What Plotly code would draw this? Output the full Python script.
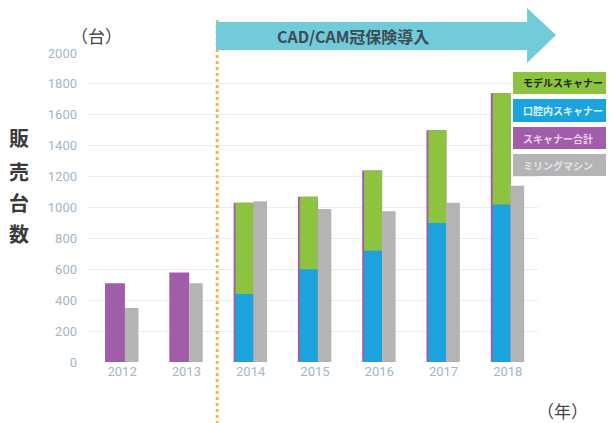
import plotly.graph_objects as go

years = ["2012", "2013", "2014", "2015", "2016", "2017", "2018"]
scanner_total = [510, 580, 1030, 1070, 1240, 1500, 1740]
intraoral = [None, None, 440, 600, 720, 900, 1020]
model_scanner = [None, None, 590, 470, 520, 600, 720]
milling = [350, 510, 1040, 990, 975, 1030, 1140]

legend_labels = ["モデルスキャナー", "口腔内スキャナー", "スキャナー合計", "ミリングマシン"]
arrow_text = "CAD/CAM冠保険導入"
y_title_chars = ["販", "売", "台", "数"]

C_GREEN = "#8CC43F"
C_BLUE = "#1BA3DD"
C_PURPLE = "#A15DAA"
C_GRAY = "#B4B4B6"
JP = "Noto Sans CJK JP"

W, H = 614, 423
OFF = 8  # page body margin
PL, PR, PT, PB = 88, 538, 53, 362
ML, MT = PL - OFF, PT - OFF
PW, PH = PR - PL, PB - PT
MR, MB = W - ML - PW, H - MT - PH


def px(x):
    return (x - PL) / PW


def py(y):
    return (PB - y) / PH


fig = go.Figure()
fig.add_trace(go.Bar(x=years, y=scanner_total, marker=dict(color=C_PURPLE, line_width=0),
                     offset=-0.265, width=0.31, name=legend_labels[2]))
fig.add_trace(go.Bar(x=years, y=intraoral, marker=dict(color=C_BLUE, line_width=0),
                     offset=-0.235, width=0.28, name=legend_labels[1]))
fig.add_trace(go.Bar(x=years, y=model_scanner, base=intraoral, marker=dict(color=C_GREEN, line_width=0),
                     offset=-0.235, width=0.28, name=legend_labels[0]))
fig.add_trace(go.Bar(x=years, y=milling, marker=dict(color=C_GRAY, line_width=0),
                     offset=0.045, width=0.21, name=legend_labels[3]))

shapes = []
shapes.append(dict(type="line", xref="x", yref="paper", x0=1.48, x1=1.48,
                   y0=py(430), y1=py(20), line=dict(color="#F7B552", width=3, dash="dot")))
pts = [(216, 22), (527, 22), (527, 8), (556, 35), (527, 63), (527, 50), (216, 50)]
path = "M " + " L ".join(f"{px(a):.4f},{py(b):.4f}" for a, b in pts) + " Z"
shapes.append(dict(type="path", xref="paper", yref="paper", path=path,
                   fillcolor="#72CBD9", line=dict(width=0), layer="above"))
boxes = [(72, 94, C_GREEN), (99, 122, C_BLUE), (127, 149, C_PURPLE), (154, 176, C_GRAY)]
for y0, y1, c in boxes:
    shapes.append(dict(type="rect", xref="paper", yref="paper", x0=px(513), x1=px(630),
                       y0=py(y1), y1=py(y0), fillcolor=c, line=dict(width=0), layer="above"))


def ann(text, x, y, size, color, xanchor="center", bold=False):
    return dict(text=("<b>" + text + "</b>") if bold else text, x=px(x), y=py(y),
                xref="paper", yref="paper", xanchor=xanchor, yanchor="middle",
                showarrow=False, font=dict(family=JP, size=size, color=color))


annotations = [
    ann(arrow_text, 353, 36, 16, "#3D4B55", bold=True),
    ann("（台）", 96, 35, 17, "#444444"),
    ann("（年）", 562, 410, 17, "#444444"),
]
for ch, yy in zip(y_title_chars, [137, 171, 202, 233]):
    annotations.append(ann(ch, 19, yy, 20, "#3A3A3A", bold=True))
tcolors = ["#1E2A10", "#DDF1FA", "#E8D2EC", "#E6E6E6"]
for (y0, y1, c), lab, tc in zip(boxes, legend_labels, tcolors):
    annotations.append(ann(lab, 521, (y0 + y1) / 2, 10, tc, xanchor="left", bold=True))

fig.update_layout(
    width=W, height=H, margin=dict(l=ML, r=MR, t=MT, b=MB),
    barmode="overlay", showlegend=False,
    paper_bgcolor="white", plot_bgcolor="white",
    shapes=shapes, annotations=annotations,
    xaxis=dict(type="category", range=[-0.53, 6.47], showgrid=False, zeroline=False,
               showline=False, ticks="", tickfont=dict(family="Roboto", size=13, color="#9FB7C8")),
    yaxis=dict(range=[0, 2000], dtick=200, showgrid=True, gridcolor="#E4F0F7", gridwidth=1,
               zeroline=False, showline=False, ticks="", ticklabelstandoff=10,
               tickfont=dict(family="Roboto", size=13, color="#9FB7C8")),
)

fig.write_html("out.html")
